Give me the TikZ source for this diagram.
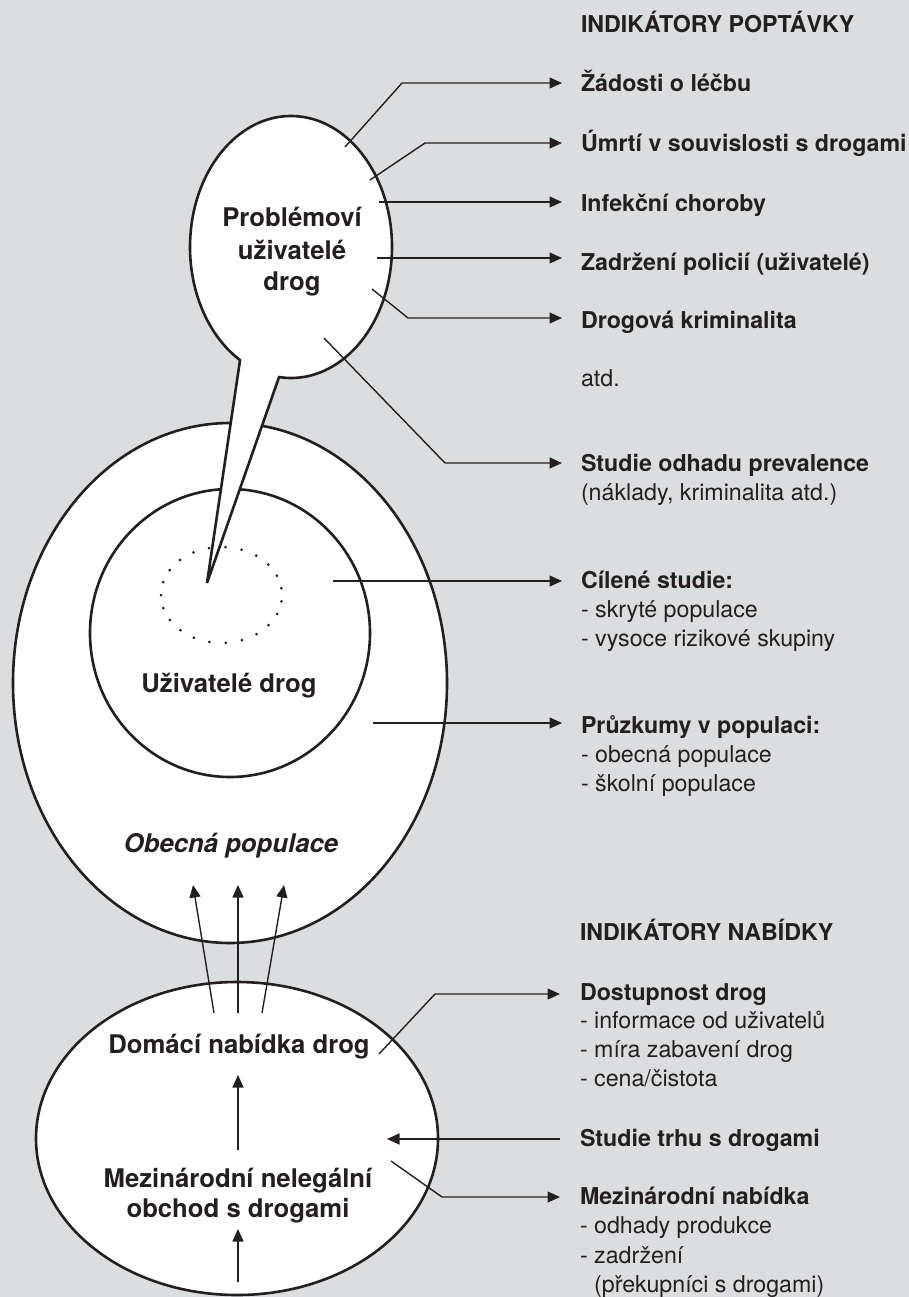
\documentclass[tikz,border=0pt]{standalone}
\usepackage{fontspec}
\setmainfont{TeX Gyre Heros}
\usetikzlibrary{arrows.meta,shapes.geometric,calc}
\definecolor{bg}{RGB}{220,221,223}
\definecolor{ink}{RGB}{35,31,32}
\begin{document}
\begin{tikzpicture}[x=1pt,y=-1pt,
  every node/.style={inner sep=0pt, outer sep=0pt, text=ink},
  lab/.style={anchor=base west, font=\fontsize{23.2}{29}\selectfont},
  labb/.style={anchor=base west, font=\fontsize{23.2}{29}\selectfont\bfseries},
  big/.style={anchor=base, font=\fontsize{25.7}{32}\selectfont\bfseries},
  oval/.style={ellipse, draw=ink, fill=white, line width=2.6pt, inner sep=0pt},
  conn/.style={draw=ink, line width=1.4pt},
  arr/.style={conn, -{Triangle[length=12.5pt,width=11pt]}},
  outl/.style={draw=ink, fill=white, line width=2.6pt, line join=miter}
]
\useasboundingbox (0,0) rectangle (909,1297);
\fill[bg] (0,0) rectangle (909,1297);

% ellipses
\node[oval, minimum width=434pt, minimum height=520pt] (obecna) at (230,683) {};
\node[oval, minimum width=280pt, minimum height=288pt] (uziv) at (230,633) {};
\node[oval, minimum width=402pt, minimum height=313pt] (nabidka) at (237,1138.5) {};

% dotted ellipse
\coordinate (dc) at (221.5,595);
\foreach \i in {0,...,22}
  \fill[ink] ($(dc)+(\i*360/23+8:60.5pt and 48pt)$) circle (1.5pt);

% speech bubble
\coordinate (bc) at (291,247);
\coordinate (tip) at (207,583);
\path[outl] ($(bc)+(-96.8:101pt and 131pt)$)
   arc[start angle=-96.8, end angle=239.7, x radius=101pt, y radius=131pt]
   -- (tip) -- cycle;

% ellipse labels
\node[big] (tPUD1) at (292,226) {Problémoví};
\node[big] (tPUD2) at (292,259) {uživatelé};
\node[big] (tPUD3) at (292,290) {drog};
\node[big] (tUD) at (229,692) {Uživatelé drog};
\node[big, font=\fontsize{25.7}{32}\selectfont\bfseries\itshape] (tOP) at (231,852) {Obecná populace};
\node[big] (tDN) at (239,1053) {Domácí nabídka drog};
\node[big] (tMN1) at (238,1187) {Mezinárodní nelegální};
\node[big] (tMN2) at (238,1217) {obchod s drogami};

% right column
\node[labb] (hP) at (581,33) {INDIKÁTORY POPTÁVKY};
\node[labb] (r1) at (581,92) {Žádosti o léčbu};
\node[labb] (r2) at (581,152) {Úmrtí v souvislosti s drogami};
\node[labb] (r3) at (581,212) {Infekční choroby};
\node[labb] (r4) at (581,270) {Zadržení policií (uživatelé)};
\node[labb] (r5) at (581,328) {Drogová kriminalita};
\node[lab] (r6) at (581,386) {atd.};
\node[labb] (r7) at (581,471) {Studie odhadu prevalence};
\node[lab] (r7a) at (581,500) {(náklady, kriminalita atd.)};
\node[labb] (r8) at (581,588) {Cílené studie:};
\node[lab] (r8a) at (581,617) {- skryté populace};
\node[lab] (r8b) at (581,646) {- vysoce rizikové skupiny};
\node[labb] (r9) at (581,733) {Průzkumy v populaci:};
\node[lab] (r9a) at (581,762) {- obecná populace};
\node[lab] (r9b) at (581,791) {- školní populace};

\node[labb] (hN) at (580,940) {INDIKÁTORY NABÍDKY};
\node[labb] (n1) at (580,1000) {Dostupnost drog};
\node[lab] (n1a) at (580,1028) {- informace od uživatelů};
\node[lab] (n1b) at (580,1057) {- míra zabavení drog};
\node[lab] (n1c) at (580,1086) {- cena/čistota};
\node[labb] (n2) at (580,1146) {Studie trhu s drogami};
\node[labb] (n3) at (580,1204) {Mezinárodní nabídka};
\node[lab] (n3a) at (580,1233) {- odhady produkce};
\node[lab] (n3b) at (580,1263) {- zadržení};
\node[lab] (n3c) at (580,1292) {\phantom{- }(překupníci s drogami)};

% demand connectors
\coordinate (s1) at (345,147); \coordinate (k1) at (402,83);  \coordinate (e1) at (562,83);
\coordinate (s2) at (370,180); \coordinate (k2) at (425,143); \coordinate (e2) at (562,143);
\coordinate (s3) at (379,202); \coordinate (e3) at (562,202);
\coordinate (s4) at (377,258); \coordinate (e4) at (562,258);
\coordinate (s5) at (372,289); \coordinate (k5) at (408,318); \coordinate (e5) at (562,318);
\coordinate (s6) at (324,338); \coordinate (k6) at (445,463); \coordinate (e6) at (562,463);
\coordinate (s7) at (333,581); \coordinate (e7) at (562,581);
\coordinate (s8) at (373,723); \coordinate (e8) at (562,723);
\draw[arr] (s1) -- (k1) -- (e1);
\draw[arr] (s2) -- (k2) -- (e2);
\draw[arr] (s3) -- (e3);
\draw[arr] (s4) -- (e4);
\draw[arr] (s5) -- (k5) -- (e5);
\draw[arr] (s6) -- (k6) -- (e6);
\draw[arr] (s7) -- (e7);
\draw[arr] (s8) -- (e8);

% supply connectors
\coordinate (u1) at (379,1054); \coordinate (m1) at (435,994); \coordinate (f1) at (560,994);
\coordinate (u2) at (560,1139); \coordinate (f2) at (387,1139);
\coordinate (u3) at (391,1161); \coordinate (m3) at (442,1197); \coordinate (f3) at (560,1197);
\draw[arr] (u1) -- (m1) -- (f1);
\draw[arr] (u2) -- (f2);
\draw[arr] (u3) -- (m3) -- (f3);

% vertical arrows
\coordinate (v1s) at (214,1013); \coordinate (v1e) at (193,885);
\coordinate (v2s) at (238,1013); \coordinate (v2e) at (238,885);
\coordinate (v3s) at (262,1013); \coordinate (v3e) at (284,885);
\coordinate (v4s) at (238,1150); \coordinate (v4e) at (238,1075);
\coordinate (v5s) at (238,1282); \coordinate (v5e) at (238,1229);
\draw[arr] (v1s) -- (v1e);
\draw[arr] (v2s) -- (v2e);
\draw[arr] (v3s) -- (v3e);
\draw[arr] (v4s) -- (v4e);
\draw[arr] (v5s) -- (v5e);
\end{tikzpicture}
\end{document}
